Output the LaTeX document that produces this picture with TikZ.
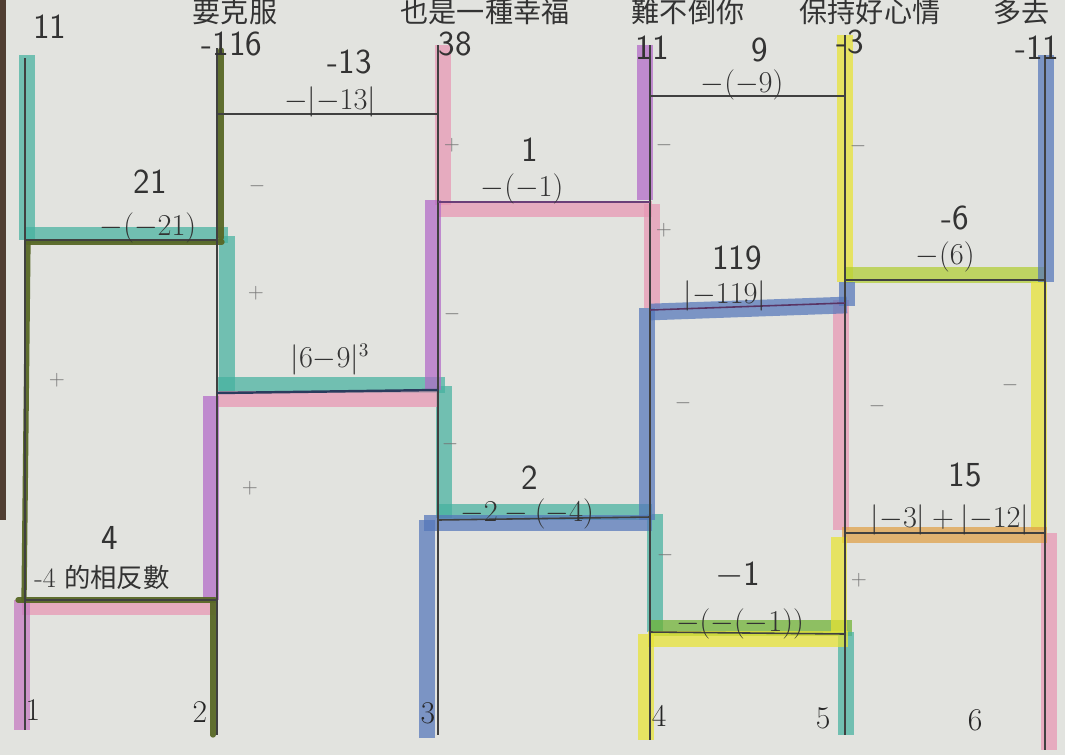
\documentclass[tikz,border=0pt]{standalone}
\usepackage{fontspec}
\newfontfamily\cjk{Noto Sans CJK TC}
\definecolor{paper}{RGB}{226,227,223}
\definecolor{hteal}{RGB}{70,178,160}
\definecolor{holive}{RGB}{88,104,38}
\definecolor{hgreen}{RGB}{110,178,50}
\definecolor{hpink}{RGB}{232,150,180}
\definecolor{hviolet}{RGB}{178,104,200}
\definecolor{hblue}{RGB}{84,118,186}
\definecolor{hyellow}{RGB}{232,228,50}
\definecolor{horange}{RGB}{224,160,70}
\definecolor{edgebrown}{RGB}{80,62,50}
\begin{document}
\begin{tikzpicture}[x=0.02cm,y=-0.02cm,
  hl/.style={line width=9.5pt, opacity=0.72, line cap=butt},
  mk/.style={line width=3pt, draw=holive, opacity=0.95, line cap=round},
  pen/.style={line width=0.9pt, draw=black!75},
  valtxt/.style={font=\sffamily\fontsize{20}{22}\selectfont, text=black!80, inner sep=0},
  extxt/.style={font=\fontsize{16}{18}\selectfont, text=black!80, inner sep=0},
  sgntxt/.style={font=\fontsize{12}{13}\selectfont, text=black!55, inner sep=0},
  cjktop/.style={font=\cjk\fontsize{16}{18}\selectfont, text=black!80, inner sep=0},
  bottxt/.style={font=\fontsize{18}{20}\selectfont, text=black!85, inner sep=0}]
\useasboundingbox (0,0) rectangle (1065,755);
\fill[paper] (0,0) rectangle (1065,755);
\fill[edgebrown] (0,0) rectangle (6,520);

% line coordinates
\coordinate (t1) at (25,58);   \coordinate (b1) at (25,730);
\coordinate (t2) at (217,48);  \coordinate (b2) at (217,735);
\coordinate (t3) at (438,45);  \coordinate (b3) at (438,735);
\coordinate (t4) at (650,45);  \coordinate (b4) at (650,740);
\coordinate (t5) at (845,35);  \coordinate (b5) at (845,735);
\coordinate (t6) at (1045,55); \coordinate (b6) at (1045,750);

% ---- highlighter strokes ----
% teal path
\draw[hl,hteal] (27,55)--(27,240);
\draw[hl,hteal] (25,235)--(228,235);
\draw[hl,hteal] (227,236)--(227,392);
\draw[hl,hteal] (218,385)--(445,385);
\draw[hl,hteal] (444,386)--(444,518);
\draw[hl,hteal] (438,512)--(652,512);
\draw[hl,hteal] (655,514)--(655,632);
\draw[hl,hgreen] (650,628)--(852,628);
\draw[hl,hteal] (846,632)--(846,735);
% pink path
\draw[hl,hpink] (443,45)--(443,205);
\draw[hl,hpink] (438,209)--(652,209);
\draw[hl,hpink] (652,204)--(652,308);
\draw[hl,hpink] (841,300)--(841,530);
\draw[hl,hpink] (1049,533)--(1049,750);
% violet path
\draw[hl,hviolet] (645,45)--(645,200);
\draw[hl,hviolet] (433,200)--(433,390);
\draw[hl,hpink] (218,399)--(438,399);
\draw[hl,hviolet] (211,396)--(211,600);
\draw[hl,hpink] (22,607)--(215,607);
\draw[hl,hviolet!65!hpink] (22,600)--(22,730);
% yellow path
\draw[hl,hyellow] (845,35)--(845,282);
\draw[hl,hyellow!55!hgreen] (845,275)--(1045,275);
\draw[hl,hyellow] (1039,282)--(1039,530);
\draw[hl,horange] (842,535)--(1047,535);
\draw[hl,hyellow] (839,537)--(839,632);
\draw[hl,hyellow] (648,639)--(848,639);
\draw[hl,hyellow] (646,634)--(646,740);
% blue path
\draw[hl,hblue] (1046,55)--(1046,282);
\draw[hl,hblue] (847,282)--(847,306);
\draw[hl,hblue] (650,312)--(847,305);
\draw[hl,hblue] (647,308)--(647,520);
\draw[hl,hblue] (424,523)--(652,523);
\draw[hl,hblue] (427,520)--(427,738);
% olive marker path
\draw[mk] (221,50)--(221,238);
\draw[mk] (27,242)--(222,242);
\draw[mk] (28,242)--(24,600);
\draw[mk] (18,600)--(215,600);
\draw[mk] (213,602)--(213,735);

% ---- pen lines ----
\draw[pen] (t1)--(b1);
\draw[pen] (t2)--(b2);
\draw[pen] (t3)--(b3);
\draw[pen] (t4)--(b4);
\draw[pen] (t5)--(b5);
\draw[pen] (t6)--(b6);
\coordinate (r1l) at (217,114); \coordinate (r1r) at (438,114);
\coordinate (r2l) at (25,240);  \coordinate (r2r) at (217,240);
\coordinate (r3l) at (438,202); \coordinate (r3r) at (650,202);
\coordinate (r4l) at (650,96);  \coordinate (r4r) at (845,96);
\coordinate (r5l) at (845,280); \coordinate (r5r) at (1045,280);
\coordinate (r6l) at (650,310); \coordinate (r6r) at (845,303);
\coordinate (r7l) at (217,393); \coordinate (r7r) at (438,390);
\coordinate (r8l) at (438,520); \coordinate (r8r) at (650,517);
\coordinate (r9l) at (25,600);  \coordinate (r9r) at (217,600);
\coordinate (r10l) at (650,632); \coordinate (r10r) at (845,634);
\coordinate (r11l) at (845,533); \coordinate (r11r) at (1045,533);
\draw[pen] (r1l)--(r1r);
\draw[pen] (r2l)--(r2r);
\draw[pen,draw=hviolet!60!black] (r3l)--(r3r);
\draw[pen] (r4l)--(r4r);
\draw[pen] (r5l)--(r5r);
\draw[pen,draw=hviolet!50!black] (r6l)--(r6r);
\draw[pen,draw=hblue!50!black,line width=1.4pt] (r7l)--(r7r);
\draw[pen] (r8l)--(r8r);
\draw[pen] (r9l)--(r9r);
\draw[pen] (r10l)--(r10r);
\draw[pen] (r11l)--(r11r);

% ---- top Chinese text ----
\node[cjktop] (c2) at (235,12) {要克服};
\node[cjktop] (c3) at (485,12) {也是一種幸福};
\node[cjktop] (c4) at (688,12) {難不倒你};
\node[cjktop] (c5) at (870,12) {保持好心情};
\node[cjktop,anchor=west] (c6) at (993,12) {多去};

% ---- top values ----
\node[valtxt] (s1) at (50,27) {11};
\node[valtxt] (s2) at (232,44) {-116};
\node[valtxt] (s3) at (455,44) {38};
\node[valtxt] (s4) at (652,48) {11};
\node[valtxt] (s5) at (850,42) {-3};
\node[valtxt,anchor=west] (s6) at (1015,48) {-11};

% ---- rung labels ----
\node[valtxt] (a1) at (350,62) {-13};
\node[extxt] (e1) at (330,102) {$-|{-}13|$};
\node[valtxt] (a2) at (150,182) {21};
\node[extxt] (e2) at (148,228) {$-(-21)$};
\node[valtxt] (a3) at (530,150) {1};
\node[extxt] (e3) at (522,189) {$-(-1)$};
\node[valtxt] (a4) at (760,50) {9};
\node[extxt] (e4) at (742,85) {$-(-9)$};
\node[valtxt] (a5) at (955,218) {-6};
\node[extxt] (e5) at (945,257) {$-(6)$};
\node[valtxt] (a6) at (737,258) {119};
\node[extxt] (e6) at (725,296) {$|{-}119|$};
\node[extxt] (e7) at (330,360) {$|6{-}9|^3$};
\node[valtxt] (a8) at (530,478) {2};
\node[extxt] (e8) at (527,514) {$-2-(-4)$};
\node[valtxt] (a9) at (110,538) {4};
\node[extxt] (e9) at (102,577) {-4 {\cjk\fontsize{15}{17}\selectfont 的相反數}};
\node[valtxt] (a10) at (738,575) {$-$1};
\node[extxt] (e10) at (740,624) {$-(-(-1))$};
\node[valtxt] (a11) at (965,475) {15};
\node[extxt] (e11) at (950,520) {$|{-}3|+|{-}12|$};

% ---- plus / minus marks ----
\node[sgntxt] (p1) at (57,380) {+};
\node[sgntxt] (p2) at (257,186) {$-$};
\node[sgntxt] (p3) at (256,293) {+};
\node[sgntxt] (p4) at (250,488) {+};
\node[sgntxt] (p5) at (452,145) {+};
\node[sgntxt] (p6) at (452,314) {$-$};
\node[sgntxt] (p7) at (450,444) {$-$};
\node[sgntxt] (p8) at (664,145) {$-$};
\node[sgntxt] (p9) at (664,230) {+};
\node[sgntxt] (p10) at (683,403) {$-$};
\node[sgntxt] (p11) at (665,555) {$-$};
\node[sgntxt] (p12) at (858,146) {$-$};
\node[sgntxt] (p13) at (877,406) {$-$};
\node[sgntxt] (p14) at (859,580) {+};
\node[sgntxt] (p15) at (1010,385) {$-$};

% ---- bottom numbers ----
\node[bottxt] (n1) at (33,710) {1};
\node[bottxt] (n2) at (200,712) {2};
\node[bottxt] (n3) at (428,713) {3};
\node[bottxt] (n4) at (659,716) {4};
\node[bottxt] (n5) at (823,718) {5};
\node[bottxt] (n6) at (975,720) {6};
\end{tikzpicture}
\end{document}
